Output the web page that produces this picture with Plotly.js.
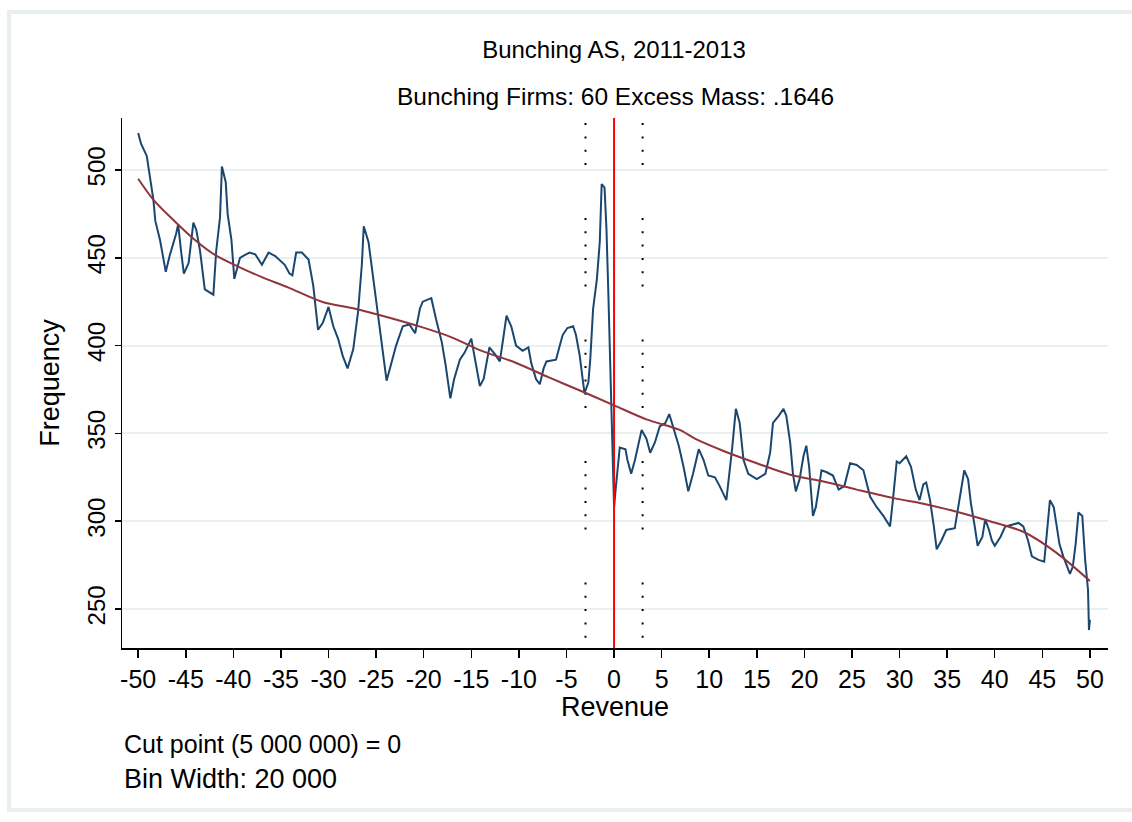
<!DOCTYPE html>
<html>
<head>
<meta charset="utf-8">
<script src="https://cdn.plot.ly/plotly-3.0.1.min.js"></script>
<style>
  html, body { margin:0; padding:0; background:#ffffff; }
  #wrap { position:relative; width:1132px; height:822px; overflow:hidden; }
  #frame { position:absolute; left:7px; top:10px; width:1140px; height:802px; border:4px solid #e8eff1; box-sizing:border-box; pointer-events:none; }
  #chart { position:absolute; left:0; top:0; width:1132px; height:822px; }
</style>
</head>
<body>
<div id="wrap">
  <div id="frame"></div>
  <div id="chart"></div>
</div>
<script>
// ---- Data ----
const titleText = 'Bunching AS, 2011-2013';
const subtitleText = 'Bunching Firms: 60 Excess Mass: .1646';
const xTitle = 'Revenue';
const yTitle = 'Frequency';
const noteCut = 'Cut point (5 000 000) = 0';
const noteBin = 'Bin Width: 20 000';

const xTicks = [-50,-45,-40,-35,-30,-25,-20,-15,-10,-5,0,5,10,15,20,25,30,35,40,45,50];
const yTicks = [250,300,350,400,450,500];

const cutPoint = 0;
const bunchWindow = [-3, 3];

// observed frequency (blue line)
const obsX = [
 -50,-49.7,-49.1,-48.8,-48.4,-48.2,-47.7,-47.1,-46.7,-46.0,-45.8,-45.5,-45.2,-44.7,-44.2,-43.9,-43.5,-43.0,-42.1,-41.8,
 -41.4,-41.2,-40.8,-40.6,-40.2,-39.9,-39.3,-39.0,-38.3,-37.7,-37.0,-36.3,-35.6,-34.6,-34.1,-33.8,-33.4,-32.8,-32.1,-31.6,
 -31.1,-30.6,-30.0,-29.5,-29.0,-28.5,-28.0,-27.4,-26.9,-26.5,-26.3,-25.8,-25.5,-25.1,-24.6,-24.1,-23.9,-23.4,-22.9,-22.2,
 -21.5,-20.9,-20.4,-20.1,-19.2,-18.7,-18.1,-17.7,-17.2,-16.8,-16.2,-15.7,-15.0,-14.5,-14.1,-13.7,-13.4,-13.1,-12.5,-12.0,
 -11.7,-11.3,-10.8,-10.3,-9.6,-9.0,-8.7,-8.2,-7.8,-7.4,-7.1,-6.1,-5.8,-5.4,-4.9,-4.3,-4.0,-3.6,-3.3,-3.1,
 -2.7,-2.5,-2.2,-1.8,-1.5,-1.3,-1.0,-0.8,-0.6,-0.3,-0.1,0.0,0.2,0.6,1.2,1.4,1.8,2.2,2.9,3.4,
 3.8,4.3,4.8,5.4,5.8,6.2,6.8,7.3,7.8,8.3,8.9,9.4,9.9,10.6,11.1,11.8,12.1,12.4,12.8,13.2,
 13.6,14.1,15.0,15.9,16.4,16.7,17.3,17.8,18.1,18.5,18.8,19.1,19.5,19.9,20.2,20.5,20.9,21.2,21.8,22.3,
 23.0,23.6,24.2,24.8,25.5,26.2,26.9,27.6,28.3,29.0,29.3,29.7,30.0,30.7,31.2,31.7,32.1,32.5,32.8,33.2,
 33.6,33.9,34.4,34.9,35.8,36.3,36.8,37.2,37.5,37.9,38.2,38.7,39.0,39.4,39.7,40.0,40.6,41.1,41.8,42.5,
 43.0,43.5,43.9,44.6,45.2,45.5,45.8,46.2,46.5,46.8,47.2,47.9,48.2,48.5,48.8,49.2,49.5,49.8,49.9,50.0
];
const obsY = [
 521,515,508,498,483,471,460,442,451,464,469,454,441,447,470,466,454,432,429,454,
 473,502,493,475,460,438,450,451,453,452,446,453,451,446,441,440,453,453,449,434,
 409,413,422,411,404,394,387,398,419,446,468,459,446,429,408,387,380,390,400,411,
 412,407,421,425,427,415,402,389,370,381,392,396,404,389,377,381,390,399,395,391,
 402,417,411,400,397,399,390,381,378,387,391,392,398,406,410,411,406,394,381,373,
 379,392,421,438,459,492,490,467,430,375,331,308,320,342,341,335,327,335,352,347,
 339,345,354,356,361,354,343,331,317,327,341,335,326,325,320,312,326,341,364,356,
 335,327,324,327,339,356,360,364,360,345,327,317,324,337,343,331,303,308,329,328,
 326,318,320,333,332,329,314,308,303,297,312,334,333,337,331,318,312,321,322,312,
 297,284,289,295,296,312,329,324,310,297,286,291,301,295,289,286,291,297,298,299,
 297,289,280,278,277,293,312,308,297,287,280,270,274,287,305,303,278,261,238,244
];

// fitted counterfactual (red line)
const fitX = [-50,-48.4,-46.2,-44.0,-41.9,-39.5,-37.0,-34.2,-30.7,-27.2,-23.7,-20.2,-17.2,-13.9,-10.4,-6.9,-3.4,0,3.4,6.9,8.5,11.5,15.0,18.5,22.0,25.5,29.5,32.5,36.0,39.5,43.0,46.5,50];
const fitY = [495,483,471,460,451.5,445,439,433,425,421,416,410.5,405,397,390.4,382,374,366,358,352,347,340,333,326.5,322.6,318,313,310,305.4,300,294,282,266];

// ---- Plot ----
const FONT = '"Liberation Sans", Arial, "DejaVu Sans", sans-serif';
const yRange = [227.8, 529.6];
const xRange = [-51.7, 51.9];
const dotPattern = '2px,11.3px,2px,11.3px,2px,11.3px,2px,11.3px,2px,11.3px,2px,53px';
const yDotTop = yRange[1] + 21.5 * (yRange[1] - yRange[0]) / 530;

const traces = [];
bunchWindow.forEach(function (b) {
  traces.push({
    x: [b, b], y: [yDotTop, yRange[0] - 20], mode: 'lines',
    line: { color: '#000000', width: 2, dash: dotPattern },
    hoverinfo: 'skip', showlegend: false
  });
});
traces.push({
  x: obsX, y: obsY, mode: 'lines',
  line: { color: '#1a476f', width: 2 },
  hoverinfo: 'skip', showlegend: false
});
traces.push({
  x: [cutPoint, cutPoint], y: [yRange[0] - 20, yRange[1] + 20], mode: 'lines',
  line: { color: '#ff0000', width: 2 },
  hoverinfo: 'skip', showlegend: false
});
traces.push({
  x: fitX, y: fitY, mode: 'lines',
  line: { color: '#90353b', width: 2, shape: 'spline', smoothing: 0.8 },
  hoverinfo: 'skip', showlegend: false
});

const layout = {
  width: 1132, height: 822,
  margin: { l: 122, r: 24, t: 118, b: 174, pad: 0 },
  paper_bgcolor: 'rgba(0,0,0,0)',
  plot_bgcolor: '#ffffff',
  font: { family: FONT, color: '#000000' },
  showlegend: false,
  title: {
    text: titleText, font: { size: 24, family: FONT, color: '#000' },
    x: 0.499, xanchor: 'center', xref: 'paper',
    y: 1 - 50 / 822, yanchor: 'middle', yref: 'container'
  },
  xaxis: {
    range: xRange, tickmode: 'array', tickvals: xTicks, ticktext: xTicks.map(String),
    ticks: 'outside', ticklen: 8, tickwidth: 1.5, tickcolor: '#000',
    showline: true, linecolor: '#000', linewidth: 1.5, mirror: false,
    showgrid: false, zeroline: false,
    tickfont: { size: 25, family: FONT },
    title: { text: xTitle, font: { size: 27, family: FONT }, standoff: 0 }
  },
  yaxis: {
    range: yRange, tickmode: 'array', tickvals: yTicks, ticktext: yTicks.map(String),
    tickangle: -90,
    ticks: 'outside', ticklen: 6, tickwidth: 1.5, tickcolor: '#000',
    showline: true, linecolor: '#000', linewidth: 1.5,
    showgrid: true, gridcolor: '#e8f0f2', gridwidth: 2, zeroline: false,
    tickfont: { size: 24, family: FONT },
    title: { text: yTitle, font: { size: 27, family: FONT }, standoff: 15 }
  },
  annotations: [
    { text: subtitleText, xref: 'paper', yref: 'paper', x: 0.5, y: (648 - 97) / 530,
      xanchor: 'center', yanchor: 'middle', showarrow: false, font: { size: 24.5, family: FONT } },
    { text: noteCut, xref: 'paper', yref: 'paper', x: 0, y: (648 - 744) / 530,
      xanchor: 'left', yanchor: 'middle', showarrow: false, font: { size: 25, family: FONT } },
    { text: noteBin, xref: 'paper', yref: 'paper', x: 0, y: (648 - 779) / 530,
      xanchor: 'left', yanchor: 'middle', showarrow: false, font: { size: 27, family: FONT } }
  ]
};

Plotly.newPlot('chart', traces, layout, { displayModeBar: false, staticPlot: true });
</script>
</body>
</html>
